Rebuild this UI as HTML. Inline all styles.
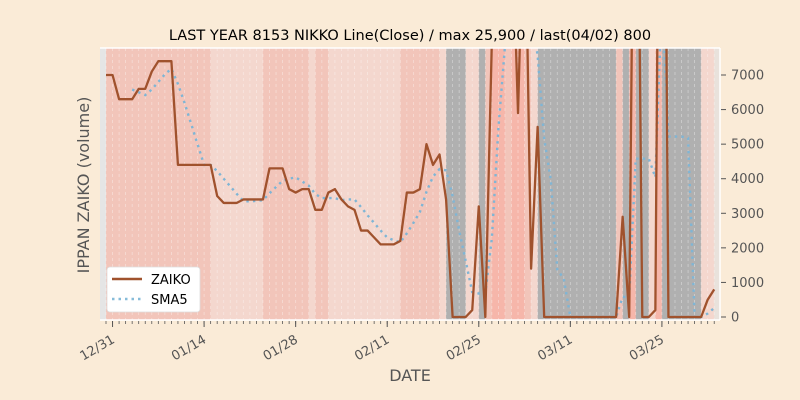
<!DOCTYPE html>
<html><head><meta charset="utf-8"><style>
html,body{margin:0;padding:0;background:#faebd7;}
svg{display:block;font-family:"DejaVu Sans","Liberation Sans",sans-serif;}
</style></head><body>
<svg id="chart" width="800" height="400" viewBox="0 0 800 400" xmlns="http://www.w3.org/2000/svg">
<rect width="800" height="400" fill="#faebd7"/>
<defs><clipPath id="clip"><rect x="100" y="48" width="620" height="272"/></clipPath></defs>
<rect x="100" y="48" width="620" height="272" fill="#e5e5e5"/>
<g id="bands" clip-path="url(#clip)"></g>
<g id="grid" clip-path="url(#clip)"></g>
<g id="series" clip-path="url(#clip)"></g>
<line x1="100" y1="320" x2="720" y2="320" stroke="#fff" stroke-width="1.5"/>
<line x1="100" y1="48" x2="720" y2="48" stroke="#fff" stroke-width="1.5"/>
<line x1="720" y1="48" x2="720" y2="320" stroke="#fff" stroke-width="1.5"/>
<g id="axes"></g>
<text x="410" y="40" text-anchor="middle" font-size="14.5" fill="#000">LAST YEAR 8153 NIKKO Line(Close) / max 25,900 / last(04/02) 800</text>
<text transform="translate(89,185) rotate(-90)" text-anchor="middle" font-size="16" fill="#555">IPPAN ZAIKO (volume)</text>
<text x="410" y="381" text-anchor="middle" font-size="16" fill="#555">DATE</text>
<g>
<rect x="107" y="267" width="93" height="45" rx="3" fill="#fff" stroke="#ddd" stroke-width="0.8"/>
<line x1="112" y1="279" x2="142" y2="279" stroke="#a0522d" stroke-width="2.5"/>
<text x="151" y="284" font-size="13" fill="#000">ZAIKO</text>
<line x1="112" y1="299" x2="142" y2="299" stroke="#87bcd9" stroke-width="2.5" stroke-dasharray="2.5,4"/>
<text x="151" y="304" font-size="13" fill="#000">SMA5</text>
</g>
</svg>
<script>
const zaiko = [7000,7000,6300,6300,6300,6600,6600,7100,7400,7400,7400,4400,4400,4400,4400,4400,4400,3500,3300,3300,3300,3400,3400,3400,3400,4300,4300,4300,3700,3600,3700,3700,3100,3100,3600,3700,3400,3200,3100,2500,2500,2300,2100,2100,2100,2200,3600,3600,3700,5000,4400,4700,3400,0,0,0,200,3200,0,8000,15900,12000,12000,5900,13000,1400,5500,0,0,0,0,0,0,0,0,0,0,0,0,2900,0,20000,0,0,200,25900,0,0,0,0,0,0,500,800];
const bandCats = "MMMMMMMMMMMMMMMMLLLLLLLLMMMMMMMLMMLLLLLLLLLLLMMMMMMLGGGLLGMSSMSSMLGGGGGGGGGGGGMGSGGLSGGGGGGLLN";
const tickLabels = ["12/31","01/14","01/28","02/11","02/25","03/11","03/25"];
const tickIdx = [1,15,29,43,57,71,85];
const yTicks = [0,1000,2000,3000,4000,5000,6000,7000];
const bandColors = {M:"#f2c5ba",L:"#f4d7ce",S:"#f6b6aa",G:"#b0b0b0",N:"#e9e2dc"};
const NS="http://www.w3.org/2000/svg";
const X0=106, DX=6.54;
function xs(i){return X0+DX*i;}
function ys(v){return 317-v*0.03457;}
function mk(tag,attrs,parent){const e=document.createElementNS(NS,tag);for(const k in attrs)e.setAttribute(k,attrs[k]);parent.appendChild(e);return e;}
const bands=document.getElementById('bands'),grid=document.getElementById('grid'),series=document.getElementById('series'),axes=document.getElementById('axes');
for(let i=0;i<zaiko.length;i++){
  const r=mk('rect',{x:xs(i),y:48,width:DX+0.3,height:272,fill:bandColors[bandCats[i]]||"#e5e5e5"},bands);
  
  
  const g=mk('line',{x1:xs(i),y1:48,x2:xs(i),y2:320,stroke:"#fff","stroke-opacity":0.4,"stroke-width":0.8,"stroke-dasharray":"3,3"},grid);
  
  
  const t=mk('line',{x1:xs(i),y1:321,x2:xs(i),y2:324,stroke:"#555","stroke-width":0.8},axes);
  
  
}
tickIdx.forEach((ti,k)=>{
  const t=mk('line',{x1:xs(ti),y1:321,x2:xs(ti),y2:327,stroke:"#555","stroke-width":1},axes);
  
  
  const lx=xs(ti)+3, ly=342;
  const l=mk('text',{x:lx,y:ly,"text-anchor":"end","font-size":13,fill:"#555",transform:`rotate(-30,${lx},${ly})`},axes);
  l.textContent=tickLabels[k];
  
  
});
yTicks.forEach(v=>{
  const t=mk('line',{x1:721,y1:ys(v),x2:726,y2:ys(v),stroke:"#555","stroke-width":1},axes);
  
  
  const l=mk('text',{x:731,y:ys(v)+4.5,"font-size":13,fill:"#555"},axes);
  l.textContent=String(v);
  
  
});
let sp=[];
for(let i=4;i<zaiko.length;i++){let s=0;for(let j=i-4;j<=i;j++)s+=zaiko[j];sp.push(xs(i)+","+ys(s/5));}
const sma=mk('polyline',{points:sp.join(" "),fill:"none",stroke:"#7fb5d5","stroke-width":2.4,"stroke-dasharray":"2.4,4.2","stroke-linecap":"butt"},series);


const zp=zaiko.map((v,i)=>xs(i)+","+ys(v)).join(" ");
const zl=mk('polyline',{points:zp,fill:"none",stroke:"#a0522d","stroke-width":2.3,"stroke-linejoin":"round"},series);


</script>
</body></html>
